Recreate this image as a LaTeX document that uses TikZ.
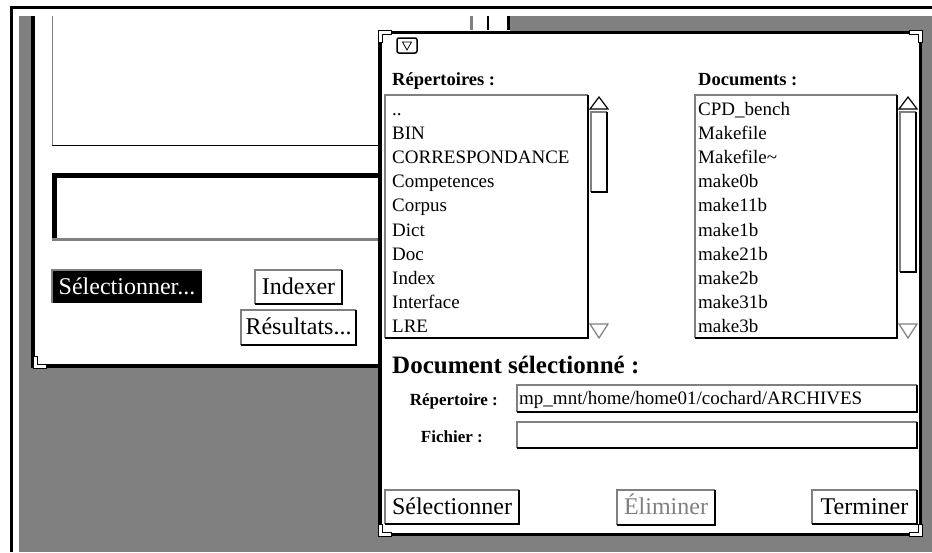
\documentclass[tikz,border=0pt]{standalone}
\usepackage{fontspec}
\setmainfont{Liberation Serif}
\definecolor{stipple}{gray}{0.5}
% raised panel: stipple top/left, black shadow right/bottom
\newcommand{\guipanel}[4]{%
  \fill[white] (#1,#2) rectangle (#3,#4);
  \draw[stipple, line width=1.5pt] (#1,#4) -- (#1,#2) -- (#3,#2);
  \draw[line width=2.5pt] (#3,#2) -- (#3,#4) -- (#1,#4);}
\begin{document}
\begin{tikzpicture}[x=1pt, y=-1pt,
	lbl/.style={anchor=base west, inner sep=0pt, font=\fontsize{18.5}{20}\selectfont\bfseries},
	item/.style={anchor=base west, inner sep=0pt, font=\fontsize{19}{21}\selectfont},
	btn/.style={anchor=base, inner sep=0pt, font=\fontsize{24}{26}\selectfont}]
	\useasboundingbox (0,0) rectangle (932,552);
	\fill[white] (0,0) rectangle (932,552);
	\draw[line width=3pt] (11.5,552) -- (11.5,7.5) -- (932,7.5);
	\fill[stipple] (19,16) rectangle (932,552);
	
	% main window
	\fill[white] (33,16) rectangle (510,366);
	\draw[line width=4pt] (33,16) -- (33,366) -- (380,366);
	\draw[stipple, line width=3pt] (471.5,16) -- (471.5,30);
	\draw[line width=2pt] (488,16) -- (488,30);
	\draw[line width=3pt] (508.5,16) -- (508.5,30);
	\draw[stipple, line width=1.2pt] (52.5,16) -- (52.5,145);
	\draw[line width=1pt] (52,145) -- (380,145);
	\draw[line width=5pt] (54.5,240) -- (54.5,175.5) -- (380,175.5);
	\draw[stipple, line width=3pt] (52,239) -- (380,239);
	\filldraw[fill=white, line width=1pt, shift={(33,368)}, yscale=-1] (0,0) -- (13,0) -- (13,4) -- (4,4) -- (4,12) -- (0,12) -- cycle;
	
	\fill[black] (52,270) rectangle (202,303);
	\draw[stipple, line width=1.5pt] (52,303) -- (52,270) -- (202,270);
	\node[btn, text=white] (select0) at (127,294) {Sélectionner...};
	\guipanel{255}{270}{342}{304}
	\node[btn] (index) at (298.5,294) {Indexer};
	\guipanel{241}{310}{356}{345}
	\node[btn] (result) at (298.5,334) {Résultats...};
	
	% dialog
	\fill[white] (380,32.5) rectangle (920.5,534.5);
	\draw[line width=3.5pt] (380,32.5) rectangle (920.5,534.5);
	\foreach \cx/\cy/\sx/\sy in {378/30/1/1, 922/30/-1/1, 378/536/1/-1, 922/536/-1/-1}
		\filldraw[fill=white, line width=1pt, shift={(\cx,\cy)}, xscale=\sx, yscale=\sy] (0,0) -- (13,0) -- (13,4) -- (4,4) -- (4,12) -- (0,12) -- cycle;
	\draw[line width=1.5pt, rounded corners=2pt] (397,38) rectangle (417,53);
	\draw[line width=0.8pt] (402.5,42) -- (411.5,42) -- (407,50) -- cycle;
	
	\node[lbl] (dirs) at (392,85) {Répertoires :};
	\node[lbl] (docs) at (698,85) {Documents :};
	
	\guipanel{385}{95}{588}{338}
	\guipanel{695}{95}{897}{338}
	\foreach \t [count=\i from 0] in {{..},BIN,CORRESPONDANCE,Competences,Corpus,Dict,Doc,Index,Interface,LRE}
		\node[item] (dir\i) at (392,115+24.2*\i) {\t};
	\foreach \t [count=\i from 0] in {{CPD\_bench},Makefile,{Makefile\textasciitilde},make0b,make11b,make1b,make21b,make2b,make31b,make3b}
		\node[item] (doc\i) at (698,115+24.2*\i) {\t};
	
	% scroll bars
	\foreach \sx/\ey in {599/192, 908/272} {
		\filldraw[fill=white, line width=1.2pt] (\sx-9,109) -- (\sx,97) -- (\sx+9,109) -- cycle;
		\guipanel{\sx-8}{112}{\sx+8}{\ey}
		\draw[stipple, line width=1.2pt] (\sx-9,324) -- (\sx+9,324) -- (\sx,338) -- cycle;
	}
	
	\node[lbl, font=\fontsize{25}{27}\selectfont\bfseries] (seldoc) at (392,373) {Document sélectionné :};
	\node[lbl, anchor=base east, font=\fontsize{17}{19}\selectfont\bfseries] (dirlbl) at (498,405) {Répertoire :};
	\node[lbl, anchor=base east, font=\fontsize{17}{19}\selectfont\bfseries] (filelbl) at (483,442) {Fichier :};
	\guipanel{517}{385}{917}{412}
	\guipanel{517}{422}{917}{448}
	\node[item] (path) at (519,404) {mp\_mnt/home/home01/cochard/ARCHIVES};
	
	\guipanel{385}{490}{519}{524}
	\node[btn] (select1) at (452,514) {Sélectionner};
	\guipanel{617}{490}{715}{525}
	\node[btn, text=stipple] (remove) at (666,514) {Éliminer};
	\guipanel{812}{490}{917}{524}
	\node[btn] (quit) at (864.5,514) {Terminer};
\end{tikzpicture}
\end{document}
